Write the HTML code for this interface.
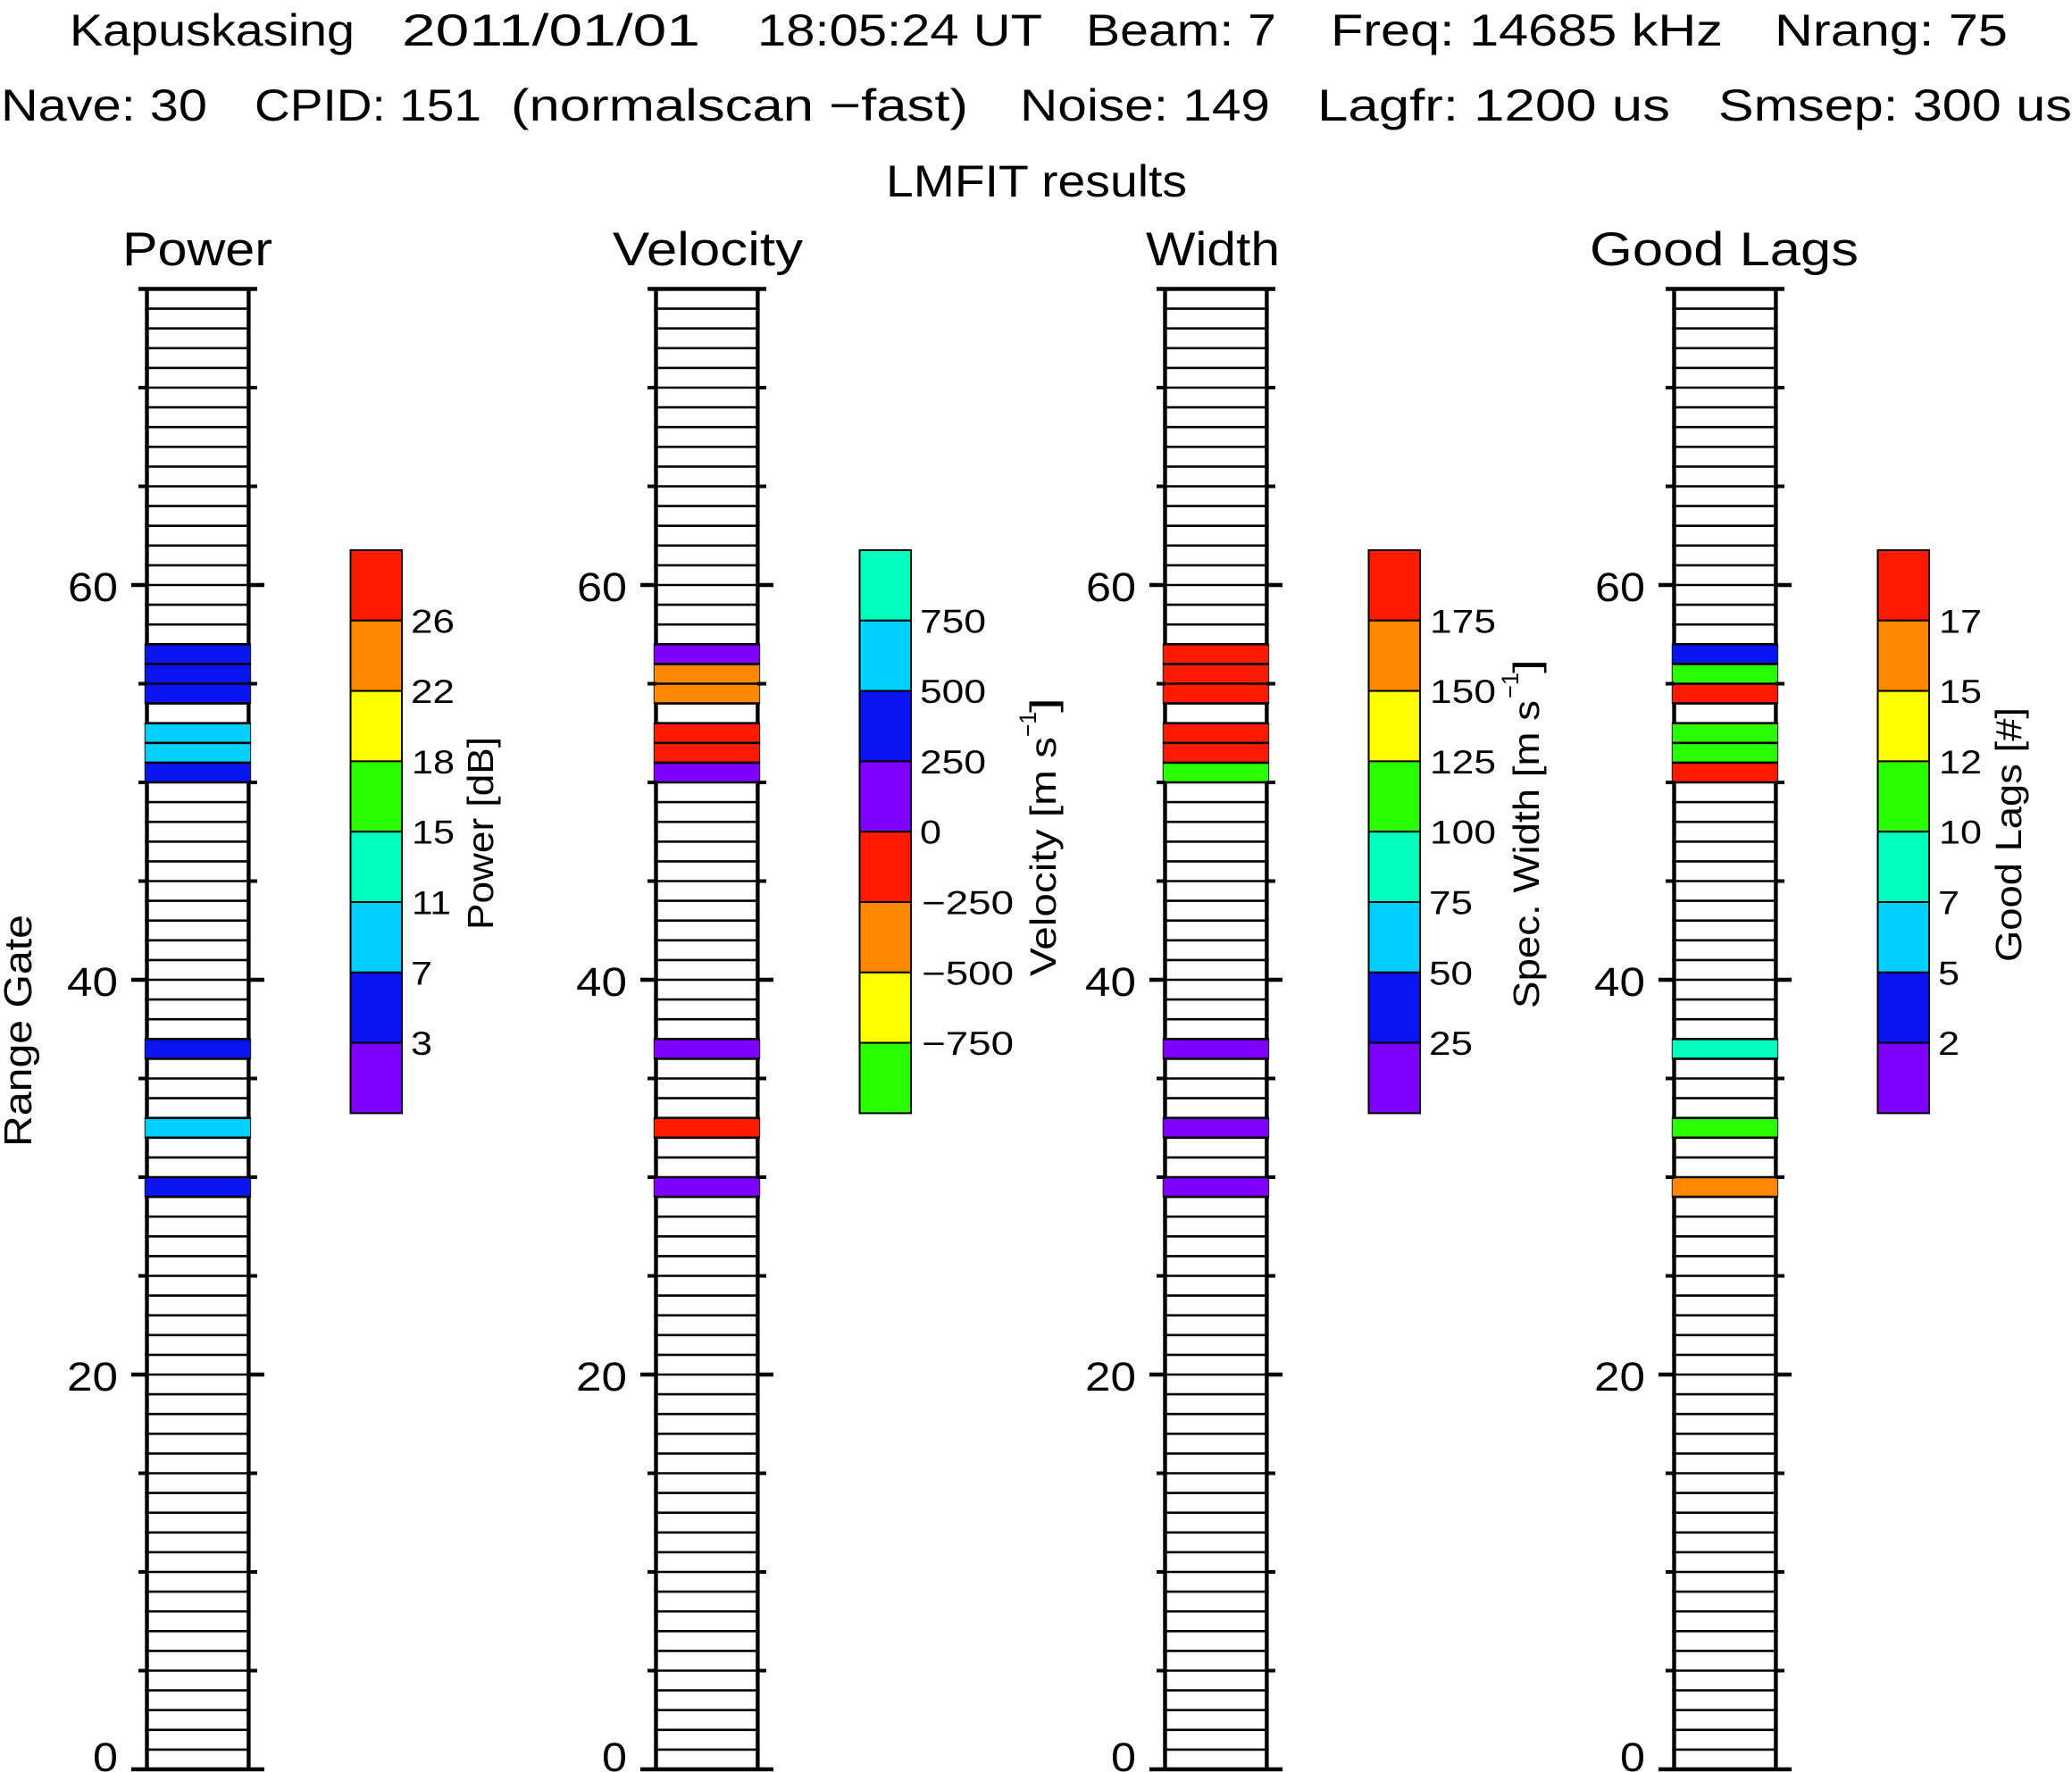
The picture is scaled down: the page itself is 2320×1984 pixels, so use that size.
<!DOCTYPE html>
<html>
<head>
<meta charset="utf-8">
<style>
html,body{margin:0;padding:0;background:#fff;}
svg{display:block;}
text{font-family:"Liberation Sans",sans-serif;fill:#000;}
</style>
</head>
<body>
<svg xmlns="http://www.w3.org/2000/svg" width="2320" height="1984" viewBox="0 0 2320 1984">
<rect x="0" y="0" width="2320" height="1984" fill="#fff"/>
<defs>
  <g id="bd">
    <path d="M164.5 323.5V1981M278.4 323.5V1981" stroke="#000" stroke-width="4.4" fill="none"/>
  </g>
  <g id="grid">
    <path fill="none" stroke="#000" stroke-width="2.6" d="M162.3 1958.9H280.6M162.3 1936.8H280.6M162.3 1914.7H280.6M162.3 1892.6H280.6M162.3 1870.5H280.6M162.3 1848.4H280.6M162.3 1826.3H280.6M162.3 1804.2H280.6M162.3 1782.1H280.6M162.3 1760H280.6M162.3 1737.9H280.6M162.3 1715.8H280.6M162.3 1693.7H280.6M162.3 1671.6H280.6M162.3 1649.5H280.6M162.3 1627.4H280.6M162.3 1605.3H280.6M162.3 1583.2H280.6M162.3 1561.1H280.6M162.3 1539H280.6M162.3 1516.9H280.6M162.3 1494.8H280.6M162.3 1472.7H280.6M162.3 1450.6H280.6M162.3 1428.5H280.6M162.3 1406.4H280.6M162.3 1384.3H280.6M162.3 1362.2H280.6M162.3 1340.1H280.6M162.3 1318H280.6M162.3 1295.9H280.6M162.3 1273.8H280.6M162.3 1251.7H280.6M162.3 1229.6H280.6M162.3 1207.5H280.6M162.3 1185.4H280.6M162.3 1163.3H280.6M162.3 1141.2H280.6M162.3 1119.1H280.6M162.3 1097H280.6M162.3 1074.9H280.6M162.3 1052.8H280.6M162.3 1030.7H280.6M162.3 1008.6H280.6M162.3 986.5H280.6M162.3 964.4H280.6M162.3 942.3H280.6M162.3 920.2H280.6M162.3 898.1H280.6M162.3 876H280.6M162.3 853.9H280.6M162.3 831.8H280.6M162.3 809.7H280.6M162.3 787.6H280.6M162.3 765.5H280.6M162.3 743.4H280.6M162.3 721.3H280.6M162.3 699.2H280.6M162.3 677.1H280.6M162.3 655H280.6M162.3 632.9H280.6M162.3 610.8H280.6M162.3 588.7H280.6M162.3 566.6H280.6M162.3 544.5H280.6M162.3 522.4H280.6M162.3 500.3H280.6M162.3 478.2H280.6M162.3 456.1H280.6M162.3 434H280.6M162.3 411.9H280.6M162.3 389.8H280.6M162.3 367.7H280.6M162.3 345.6H280.6"/>
    <path fill="none" stroke="#000" stroke-width="4" d="M155 1870.5H165M278 1870.5H288M155 1760H165M278 1760H288M155 1649.5H165M278 1649.5H288M155 1428.5H165M278 1428.5H288M155 1318H165M278 1318H288M155 1207.5H165M278 1207.5H288M155 986.5H165M278 986.5H288M155 876H165M278 876H288M155 765.5H165M278 765.5H288M155 544.5H165M278 544.5H288M155 434H165M278 434H288"/>
    <path fill="none" stroke="#000" stroke-width="4.4" d="M147 1539H165M278 1539H296M147 1097H165M278 1097H296M147 655H165M278 655H296"/>
    <path fill="none" stroke="#000" stroke-width="4.6" d="M155 323.5H288M147 1981H296"/>
  </g>
</defs>

<!-- Header -->
<g font-size="50">
  <text x="78" y="51" textLength="319" lengthAdjust="spacingAndGlyphs">Kapuskasing</text>
  <text x="450" y="51" textLength="334" lengthAdjust="spacingAndGlyphs">2011/01/01</text>
  <text x="848" y="51" textLength="319" lengthAdjust="spacingAndGlyphs">18:05:24 UT</text>
  <text x="1216" y="51" textLength="213" lengthAdjust="spacingAndGlyphs">Beam: 7</text>
  <text x="1490" y="51" textLength="439" lengthAdjust="spacingAndGlyphs">Freq: 14685 kHz</text>
  <text x="1987" y="51" textLength="261" lengthAdjust="spacingAndGlyphs">Nrang: 75</text>

  <text x="1" y="135" textLength="231" lengthAdjust="spacingAndGlyphs">Nave: 30</text>
  <text x="285" y="135" textLength="254" lengthAdjust="spacingAndGlyphs">CPID: 151</text>
  <text x="572" y="135" textLength="512" lengthAdjust="spacingAndGlyphs">(normalscan −fast)</text>
  <text x="1142" y="135" textLength="280" lengthAdjust="spacingAndGlyphs">Noise: 149</text>
  <text x="1475" y="135" textLength="395" lengthAdjust="spacingAndGlyphs">Lagfr: 1200 us</text>
  <text x="1924" y="135" textLength="396" lengthAdjust="spacingAndGlyphs">Smsep: 300 us</text>

  <text x="992" y="220" textLength="337" lengthAdjust="spacingAndGlyphs">LMFIT results</text>
</g>

<!-- Panel titles -->
<g font-size="53">
  <text x="137" y="297" textLength="168" lengthAdjust="spacingAndGlyphs">Power</text>
  <text x="686" y="297" textLength="213" lengthAdjust="spacingAndGlyphs">Velocity</text>
  <text x="1283" y="297" textLength="150" lengthAdjust="spacingAndGlyphs">Width</text>
  <text x="1780" y="297" textLength="301" lengthAdjust="spacingAndGlyphs">Good Lags</text>
</g>

<!-- Range Gate -->
<text font-size="44" transform="translate(35,1284) rotate(-90)" x="0" y="0" textLength="260" lengthAdjust="spacingAndGlyphs">Range Gate</text>

<!-- Panel 0: Power -->
<g>
  <use href="#bd"/>
  <g stroke="#000" stroke-opacity="0.7" stroke-width="1.2">
    <rect x="162.3" y="721.3" width="118.3" height="22.1" fill="#0a14f0"/>
    <rect x="162.3" y="743.4" width="118.3" height="22.1" fill="#0a14f0"/>
    <rect x="162.3" y="765.5" width="118.3" height="22.1" fill="#0a14f0"/>
    <rect x="162.3" y="809.7" width="118.3" height="22.1" fill="#00d0ff"/>
    <rect x="162.3" y="831.8" width="118.3" height="22.1" fill="#00d0ff"/>
    <rect x="162.3" y="853.9" width="118.3" height="22.1" fill="#0a14f0"/>
    <rect x="162.3" y="1163.3" width="118.3" height="22.1" fill="#0a14f0"/>
    <rect x="162.3" y="1251.7" width="118.3" height="22.1" fill="#00d0ff"/>
    <rect x="162.3" y="1318" width="118.3" height="22.1" fill="#0a14f0"/>
  </g>
  <use href="#grid"/>
</g>

<!-- Panel 1: Velocity -->
<g transform="translate(570,0)">
  <use href="#bd"/>
  <g stroke="#000" stroke-opacity="0.7" stroke-width="1.2">
    <rect x="162.3" y="721.3" width="118.3" height="22.1" fill="#7f00ff"/>
    <rect x="162.3" y="743.4" width="118.3" height="22.1" fill="#ff8800"/>
    <rect x="162.3" y="765.5" width="118.3" height="22.1" fill="#ff8800"/>
    <rect x="162.3" y="809.7" width="118.3" height="22.1" fill="#ff1a00"/>
    <rect x="162.3" y="831.8" width="118.3" height="22.1" fill="#ff1a00"/>
    <rect x="162.3" y="853.9" width="118.3" height="22.1" fill="#7f00ff"/>
    <rect x="162.3" y="1163.3" width="118.3" height="22.1" fill="#7f00ff"/>
    <rect x="162.3" y="1251.7" width="118.3" height="22.1" fill="#ff1a00"/>
    <rect x="162.3" y="1318" width="118.3" height="22.1" fill="#7f00ff"/>
  </g>
  <use href="#grid"/>
</g>

<!-- Panel 2: Width -->
<g transform="translate(1140,0)">
  <use href="#bd"/>
  <g stroke="#000" stroke-opacity="0.7" stroke-width="1.2">
    <rect x="162.3" y="721.3" width="118.3" height="22.1" fill="#ff1a00"/>
    <rect x="162.3" y="743.4" width="118.3" height="22.1" fill="#ff1a00"/>
    <rect x="162.3" y="765.5" width="118.3" height="22.1" fill="#ff1a00"/>
    <rect x="162.3" y="809.7" width="118.3" height="22.1" fill="#ff1a00"/>
    <rect x="162.3" y="831.8" width="118.3" height="22.1" fill="#ff1a00"/>
    <rect x="162.3" y="853.9" width="118.3" height="22.1" fill="#2aff00"/>
    <rect x="162.3" y="1163.3" width="118.3" height="22.1" fill="#7f00ff"/>
    <rect x="162.3" y="1251.7" width="118.3" height="22.1" fill="#7f00ff"/>
    <rect x="162.3" y="1318" width="118.3" height="22.1" fill="#7f00ff"/>
  </g>
  <use href="#grid"/>
</g>

<!-- Panel 3: Good Lags -->
<g transform="translate(1710,0)">
  <use href="#bd"/>
  <g stroke="#000" stroke-opacity="0.7" stroke-width="1.2">
    <rect x="162.3" y="721.3" width="118.3" height="22.1" fill="#0a14f0"/>
    <rect x="162.3" y="743.4" width="118.3" height="22.1" fill="#2aff00"/>
    <rect x="162.3" y="765.5" width="118.3" height="22.1" fill="#ff1a00"/>
    <rect x="162.3" y="809.7" width="118.3" height="22.1" fill="#2aff00"/>
    <rect x="162.3" y="831.8" width="118.3" height="22.1" fill="#2aff00"/>
    <rect x="162.3" y="853.9" width="118.3" height="22.1" fill="#ff1a00"/>
    <rect x="162.3" y="1163.3" width="118.3" height="22.1" fill="#00ffbe"/>
    <rect x="162.3" y="1251.7" width="118.3" height="22.1" fill="#2aff00"/>
    <rect x="162.3" y="1318" width="118.3" height="22.1" fill="#ff8800"/>
  </g>
  <use href="#grid"/>
</g>

<!-- Tick labels -->
<g font-size="45" text-anchor="end">
  <text x="132" y="673" textLength="56" lengthAdjust="spacingAndGlyphs">60</text>
  <text x="132" y="1115" textLength="57" lengthAdjust="spacingAndGlyphs">40</text>
  <text x="132" y="1557" textLength="57" lengthAdjust="spacingAndGlyphs">20</text>
  <text x="132" y="1983" textLength="28" lengthAdjust="spacingAndGlyphs">0</text>

  <text x="702" y="673" textLength="56" lengthAdjust="spacingAndGlyphs">60</text>
  <text x="702" y="1115" textLength="57" lengthAdjust="spacingAndGlyphs">40</text>
  <text x="702" y="1557" textLength="57" lengthAdjust="spacingAndGlyphs">20</text>
  <text x="702" y="1983" textLength="28" lengthAdjust="spacingAndGlyphs">0</text>

  <text x="1272" y="673" textLength="56" lengthAdjust="spacingAndGlyphs">60</text>
  <text x="1272" y="1115" textLength="57" lengthAdjust="spacingAndGlyphs">40</text>
  <text x="1272" y="1557" textLength="57" lengthAdjust="spacingAndGlyphs">20</text>
  <text x="1272" y="1983" textLength="28" lengthAdjust="spacingAndGlyphs">0</text>

  <text x="1842" y="673" textLength="56" lengthAdjust="spacingAndGlyphs">60</text>
  <text x="1842" y="1115" textLength="57" lengthAdjust="spacingAndGlyphs">40</text>
  <text x="1842" y="1557" textLength="57" lengthAdjust="spacingAndGlyphs">20</text>
  <text x="1842" y="1983" textLength="28" lengthAdjust="spacingAndGlyphs">0</text>
</g>

<!-- Colorbars -->
<g stroke="#000" stroke-width="2">
  <!-- Power -->
  <rect x="392.5" y="616" width="57.5" height="78.8" fill="#ff1a00"/>
  <rect x="392.5" y="694.8" width="57.5" height="78.8" fill="#ff8800"/>
  <rect x="392.5" y="773.6" width="57.5" height="78.8" fill="#ffff00"/>
  <rect x="392.5" y="852.4" width="57.5" height="78.8" fill="#2aff00"/>
  <rect x="392.5" y="931.2" width="57.5" height="78.8" fill="#00ffbe"/>
  <rect x="392.5" y="1010" width="57.5" height="78.8" fill="#00d0ff"/>
  <rect x="392.5" y="1088.8" width="57.5" height="78.8" fill="#0a14f0"/>
  <rect x="392.5" y="1167.6" width="57.5" height="78.8" fill="#7f00ff"/>
  <!-- Velocity -->
  <rect x="962.5" y="616" width="57.5" height="78.8" fill="#00ffbe"/>
  <rect x="962.5" y="694.8" width="57.5" height="78.8" fill="#00d0ff"/>
  <rect x="962.5" y="773.6" width="57.5" height="78.8" fill="#0a14f0"/>
  <rect x="962.5" y="852.4" width="57.5" height="78.8" fill="#7f00ff"/>
  <rect x="962.5" y="931.2" width="57.5" height="78.8" fill="#ff1a00"/>
  <rect x="962.5" y="1010" width="57.5" height="78.8" fill="#ff8800"/>
  <rect x="962.5" y="1088.8" width="57.5" height="78.8" fill="#ffff00"/>
  <rect x="962.5" y="1167.6" width="57.5" height="78.8" fill="#2aff00"/>
  <!-- Width -->
  <rect x="1532.5" y="616" width="57.5" height="78.8" fill="#ff1a00"/>
  <rect x="1532.5" y="694.8" width="57.5" height="78.8" fill="#ff8800"/>
  <rect x="1532.5" y="773.6" width="57.5" height="78.8" fill="#ffff00"/>
  <rect x="1532.5" y="852.4" width="57.5" height="78.8" fill="#2aff00"/>
  <rect x="1532.5" y="931.2" width="57.5" height="78.8" fill="#00ffbe"/>
  <rect x="1532.5" y="1010" width="57.5" height="78.8" fill="#00d0ff"/>
  <rect x="1532.5" y="1088.8" width="57.5" height="78.8" fill="#0a14f0"/>
  <rect x="1532.5" y="1167.6" width="57.5" height="78.8" fill="#7f00ff"/>
  <!-- Good Lags -->
  <rect x="2102.5" y="616" width="57.5" height="78.8" fill="#ff1a00"/>
  <rect x="2102.5" y="694.8" width="57.5" height="78.8" fill="#ff8800"/>
  <rect x="2102.5" y="773.6" width="57.5" height="78.8" fill="#ffff00"/>
  <rect x="2102.5" y="852.4" width="57.5" height="78.8" fill="#2aff00"/>
  <rect x="2102.5" y="931.2" width="57.5" height="78.8" fill="#00ffbe"/>
  <rect x="2102.5" y="1010" width="57.5" height="78.8" fill="#00d0ff"/>
  <rect x="2102.5" y="1088.8" width="57.5" height="78.8" fill="#0a14f0"/>
  <rect x="2102.5" y="1167.6" width="57.5" height="78.8" fill="#7f00ff"/>
</g>

<!-- Colorbar labels -->
<g font-size="37">
  <text x="460" y="708.3" textLength="49" lengthAdjust="spacingAndGlyphs">26</text>
  <text x="460" y="787.1" textLength="49" lengthAdjust="spacingAndGlyphs">22</text>
  <text x="461" y="865.9" textLength="48" lengthAdjust="spacingAndGlyphs">18</text>
  <text x="461" y="944.7" textLength="48" lengthAdjust="spacingAndGlyphs">15</text>
  <text x="461" y="1023.5" textLength="44" lengthAdjust="spacingAndGlyphs">11</text>
  <text x="460" y="1102.3" textLength="24" lengthAdjust="spacingAndGlyphs">7</text>
  <text x="460" y="1181.1" textLength="24" lengthAdjust="spacingAndGlyphs">3</text>

  <text x="1030" y="708.3" textLength="74" lengthAdjust="spacingAndGlyphs">750</text>
  <text x="1030" y="787.1" textLength="74" lengthAdjust="spacingAndGlyphs">500</text>
  <text x="1030" y="865.9" textLength="74" lengthAdjust="spacingAndGlyphs">250</text>
  <text x="1030" y="944.7" textLength="24" lengthAdjust="spacingAndGlyphs">0</text>
  <text x="1032" y="1023.5" textLength="103" lengthAdjust="spacingAndGlyphs">−250</text>
  <text x="1032" y="1102.3" textLength="103" lengthAdjust="spacingAndGlyphs">−500</text>
  <text x="1032" y="1181.1" textLength="103" lengthAdjust="spacingAndGlyphs">−750</text>

  <text x="1601" y="708.3" textLength="74" lengthAdjust="spacingAndGlyphs">175</text>
  <text x="1601" y="787.1" textLength="74" lengthAdjust="spacingAndGlyphs">150</text>
  <text x="1601" y="865.9" textLength="74" lengthAdjust="spacingAndGlyphs">125</text>
  <text x="1601" y="944.7" textLength="74" lengthAdjust="spacingAndGlyphs">100</text>
  <text x="1600" y="1023.5" textLength="49" lengthAdjust="spacingAndGlyphs">75</text>
  <text x="1600" y="1102.3" textLength="49" lengthAdjust="spacingAndGlyphs">50</text>
  <text x="1600" y="1181.1" textLength="49" lengthAdjust="spacingAndGlyphs">25</text>

  <text x="2171" y="708.3" textLength="48" lengthAdjust="spacingAndGlyphs">17</text>
  <text x="2171" y="787.1" textLength="48" lengthAdjust="spacingAndGlyphs">15</text>
  <text x="2171" y="865.9" textLength="48" lengthAdjust="spacingAndGlyphs">12</text>
  <text x="2171" y="944.7" textLength="48" lengthAdjust="spacingAndGlyphs">10</text>
  <text x="2170" y="1023.5" textLength="24" lengthAdjust="spacingAndGlyphs">7</text>
  <text x="2170" y="1102.3" textLength="24" lengthAdjust="spacingAndGlyphs">5</text>
  <text x="2170" y="1181.1" textLength="24" lengthAdjust="spacingAndGlyphs">2</text>
</g>

<!-- Colorbar titles (rotated) -->
<g font-size="41">
  <text transform="translate(552,1041) rotate(-90)" x="0" y="0" textLength="216" lengthAdjust="spacingAndGlyphs">Power [dB]</text>

  <text transform="translate(1182,1093) rotate(-90)" x="0" y="0" textLength="268" lengthAdjust="spacingAndGlyphs">Velocity [m s</text>
  <text transform="translate(1160,825) rotate(-90)" x="0" y="0" font-size="27" textLength="28" lengthAdjust="spacingAndGlyphs">−1</text>
  <text transform="translate(1182,798) rotate(-90)" x="0" y="0" textLength="17" lengthAdjust="spacingAndGlyphs">]</text>

  <text transform="translate(1723,1129) rotate(-90)" x="0" y="0" textLength="345" lengthAdjust="spacingAndGlyphs">Spec. Width [m s</text>
  <text transform="translate(1700,782) rotate(-90)" x="0" y="0" font-size="27" textLength="29" lengthAdjust="spacingAndGlyphs">−1</text>
  <text transform="translate(1723,754) rotate(-90)" x="0" y="0" textLength="16" lengthAdjust="spacingAndGlyphs">]</text>

  <text transform="translate(2263,1077) rotate(-90)" x="0" y="0" textLength="285" lengthAdjust="spacingAndGlyphs">Good Lags [#]</text>
</g>
</svg>
</body>
</html>
